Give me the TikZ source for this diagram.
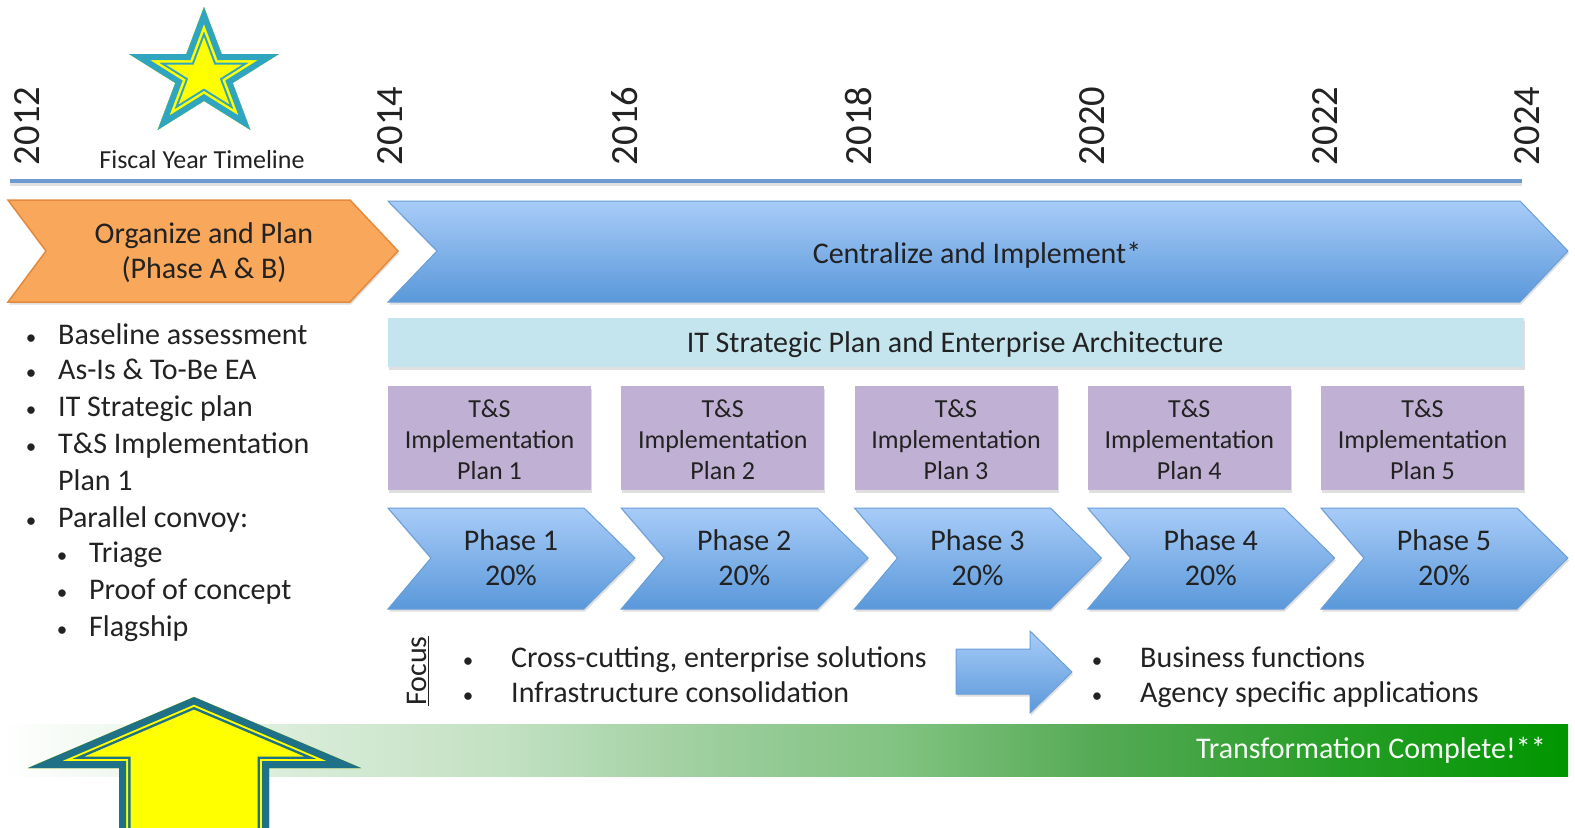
\documentclass[tikz,border=0pt]{standalone}
\usepackage{fontspec}
\setmainfont{Carlito}
\usetikzlibrary{shadows}
\definecolor{txtc}{HTML}{222222}
\definecolor{orgF}{HTML}{F9A75B}
\definecolor{orgD}{HTML}{E38A3C}
\definecolor{bluT}{HTML}{A8CCF8}
\definecolor{bluB}{HTML}{5A98DA}
\definecolor{bluD}{HTML}{6A9ED8}
\definecolor{lineC}{HTML}{6E9AD2}
\definecolor{itC}{HTML}{C4E4EE}
\definecolor{purC}{HTML}{C0B1D4}
\definecolor{starT}{HTML}{2FA5C0}
\definecolor{arrT}{HTML}{1F7187}
\definecolor{yel}{HTML}{FFFF00}
\definecolor{gA}{RGB}{215,235,215}
\definecolor{gB}{RGB}{195,225,195}
\definecolor{gC}{RGB}{155,205,155}
\definecolor{gD}{RGB}{130,195,130}
\definecolor{gE}{RGB}{85,170,85}
\definecolor{gF}{RGB}{40,158,40}
\definecolor{gG}{RGB}{0,150,0}
\pgfdeclarehorizontalshading{greenbar}{100bp}{color(0bp)=(white); color(25bp)=(white); color(35bp)=(gA); color(41bp)=(gB); color(48bp)=(gC); color(53.5bp)=(gD); color(60bp)=(gE); color(67.5bp)=(gF); color(75bp)=(gG); color(100bp)=(gG)}
\begin{document}
\begin{tikzpicture}[x=1bp,y=-1bp,
  every node/.style={inner sep=0pt, text=txtc},
  bigf/.style={font=\fontsize{30bp}{35bp}\selectfont},
  year/.style={rotate=90, font=\fontsize{38.5bp}{40bp}\selectfont},
  shad/.style={drop shadow={opacity=0.25, shadow xshift=1bp, shadow yshift=-2.5bp}},
  bluarrow/.style={shad, shading=axis, top color=bluT, bottom color=bluB, draw=bluD, line width=1bp, line join=miter},
  purbox/.style={shad, fill=purC},
  itbar/.style={shad, fill=itC},
  bul/.style={anchor=base, font=\fontsize{21bp}{21bp}\selectfont},
  btxt/.style={anchor=base west, bigf},
  ptxt/.style={align=center, font=\fontsize{26bp}{31bp}\selectfont}]
\useasboundingbox (0,0) rectangle (1575,827);
\fill[white] (0,0) rectangle (1575,827);

% years
\foreach \yr/\xx in {2012/27, 2014/390, 2016/625, 2018/858, 2020/1092, 2022/1325, 2024/1527}
  \node[year] (y\yr) at (\xx,126) {\yr};
\node[font=\fontsize{26bp}{28bp}\selectfont] (fyt) at (202,160) {Fiscal Year Timeline};

% star
\def\starpath{(204,7) -- (221.7,54) -- (279,54) -- (232.7,83) -- (250.4,130) -- (204,101) -- (157.6,130) -- (175.3,83) -- (129,54) -- (186.3,54) -- cycle}
\begin{scope}
  \clip \starpath;
  \fill[yel] \starpath;
  \draw[starT, line width=21bp, line join=miter] \starpath;
  \draw[yel, line width=17bp, line join=miter] \starpath;
  \draw[starT, line width=12bp, line join=miter] \starpath;
\end{scope}

% timeline
\coordinate (tlA) at (10,181);
\coordinate (tlB) at (1522,181);
\draw[black!12, line width=3bp] ([yshift=-3bp]tlA) -- ([yshift=-3bp]tlB);
\draw[lineC, line width=3.5bp] (tlA) -- (tlB);

% organize chevron
\path[shad, fill=orgF, draw=orgD, line width=1.5bp, line join=miter]
  (8,200) -- (350,200) -- (398,251) -- (350,302) -- (8,302) -- (46,251) -- cycle;
\node[bigf, align=center] (org) at (204,253) {Organize and Plan\\(Phase A \& B)};

% centralize arrow
\path[bluarrow] (388,201) -- (1520,201) -- (1568,251) -- (1520,302) -- (388,302) -- (437,251) -- cycle;
\node[bigf] (cent) at (977,255) {Centralize and Implement*};

% IT bar
\path[itbar] (388,318) rectangle (1524,367);
\node[bigf] (itsp) at (955,345) {IT Strategic Plan and Enterprise Architecture};

% plans and phases
\foreach \i [evaluate=\i as \L using 388+233.25*(\i-1)] in {1,...,5}{
  \path[purbox] (\L,386) rectangle ++(203,104);
  \node[ptxt] (plan\i) at (\L+101.5,440) {T\&S\\Implementation\\Plan \i};
  \path[bluarrow] (\L,508) -- ++(196,0) -- ++(51,50) -- ++(-51,51) -- ++(-196,0) -- ++(43,-51) -- cycle;
  \node[bigf, align=center] (ph\i) at (\L+123,558) {Phase \i\\20\%};
}

% left bullets
\foreach \n/\bx/\tx/\yy/\t in {1/31/58/344/Baseline assessment, 2/31/58/379/As-Is \& To-Be EA, 3/31/58/416/IT Strategic plan, 4/31/58/453/T\&S Implementation, 6/31/58/527/Parallel convoy:, 7/62/89/562/Triage, 8/62/89/599/Proof of concept, 9/62/89/636/Flagship}{
  \node[bul] (lb\n) at (\bx,\yy) {\textbullet};
  \node[btxt] (lt\n) at (\tx,\yy) {\t};
}
\node[btxt] (lt5) at (58,490) {Plan 1};

% focus
\node[bigf, rotate=90] (focus) at (418,671) {\underline{Focus}};
\node[bul] (fb1) at (468,667) {\textbullet};
\node[btxt] (ft1) at (511,667) {Cross-cutting, enterprise solutions};
\node[bul] (fb2) at (468,702) {\textbullet};
\node[btxt] (ft2) at (511,702) {Infrastructure consolidation};
\path[bluarrow] (956,649) -- (1030,649) -- (1030,631) -- (1072,672) -- (1030,713) -- (1030,694) -- (956,694) -- cycle;
\node[bul] (fb3) at (1097,667) {\textbullet};
\node[btxt] (ft3) at (1140,667) {Business functions};
\node[bul] (fb4) at (1097,702) {\textbullet};
\node[btxt] (ft4) at (1140,702) {Agency specific applications};

% green bar
\path[shading=greenbar] (0,724) rectangle (1568,776);
\node[bigf, anchor=east, text=white!96!gG] (done) at (1546,750) {Transformation Complete!**};

% up arrow
\def\uppath{(194,697) -- (361,768) -- (269,768) -- (269,850) -- (119,850) -- (119,768) -- (28,768) -- cycle}
\begin{scope}
  \clip \uppath;
  \fill[yel] \uppath;
  \draw[arrT, line width=23bp, line join=miter] \uppath;
  \draw[yel, line width=18bp, line join=miter] \uppath;
  \draw[arrT, line width=14bp, line join=miter] \uppath;
\end{scope}
\end{tikzpicture}
\end{document}
